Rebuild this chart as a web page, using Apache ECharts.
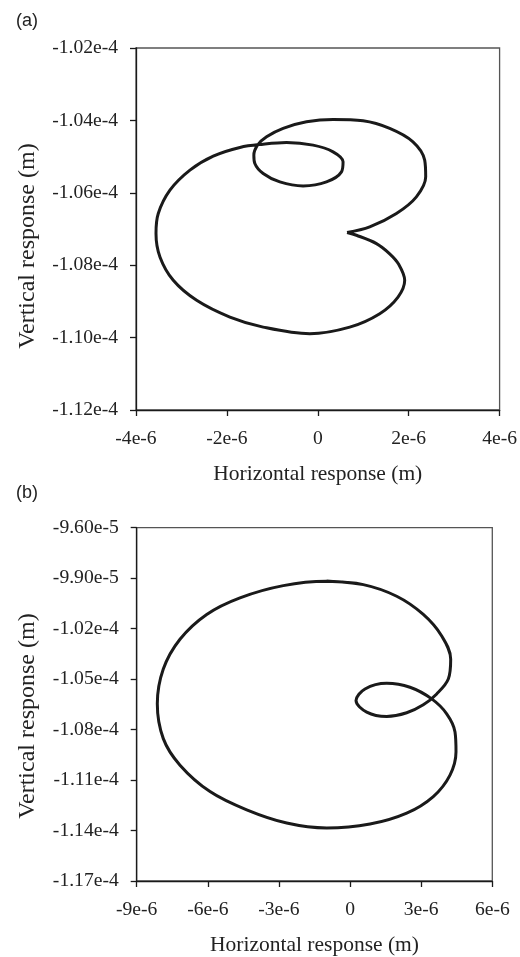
<!DOCTYPE html>
<html>
<head>
<meta charset="utf-8">
<script src="https://cdn.jsdelivr.net/npm/echarts@6/dist/echarts.min.js"></script>
<style>
  html, body { margin: 0; padding: 0; background: #fff; }
  #chart { width: 520px; height: 957px; }
</style>
</head>
<body>
<div id="chart"></div>
<script>
// Panel (a): orbit of the response point (horizontal, vertical), metres
const orbitAX = [
  0.644e-6, 1.143e-6, 1.730e-6, 2.169e-6, 2.374e-6, 2.352e-6, 2.094e-6, 1.582e-6, 0.996e-6, 0.336e-6,
  -0.248e-6, -0.763e-6, -1.127e-6, -1.325e-6, -1.407e-6, -1.385e-6, -1.202e-6, -0.835e-6, -0.323e-6, 0.191e-6,
  0.521e-6, 0.556e-6, 0.336e-6, -0.103e-6, -0.688e-6, -1.202e-6, -1.714e-6, -2.301e-6, -2.813e-6, -3.253e-6,
  -3.510e-6, -3.560e-6, -3.473e-6, -3.180e-6, -2.666e-6, -1.934e-6, -1.202e-6, -0.176e-6, 0.703e-6, 1.363e-6,
  1.765e-6, 1.912e-6, 1.780e-6, 1.582e-6, 1.290e-6, 0.851e-6, 0.644e-6
];
const orbitAY = [
  -107.098e-6, -106.943e-6, -106.573e-6, -106.113e-6, -105.560e-6, -105.098e-6, -104.592e-6, -104.221e-6, -104.011e-6, -103.972e-6,
  -104.039e-6, -104.221e-6, -104.454e-6, -104.683e-6, -104.960e-6, -105.190e-6, -105.466e-6, -105.699e-6, -105.809e-6, -105.699e-6,
  -105.422e-6, -105.145e-6, -104.869e-6, -104.683e-6, -104.609e-6, -104.656e-6, -104.747e-6, -104.988e-6, -105.375e-6, -105.928e-6,
  -106.573e-6, -107.126e-6, -107.773e-6, -108.418e-6, -108.971e-6, -109.433e-6, -109.710e-6, -109.892e-6, -109.710e-6, -109.339e-6,
  -108.880e-6, -108.418e-6, -107.975e-6, -107.685e-6, -107.403e-6, -107.173e-6, -107.098e-6
];

// Panel (b)
const orbitBX = [
  -0.985e-6, 0.558e-6, 1.967e-6, 3.089e-6, 3.866e-6, 4.245e-6, 4.144e-6, 3.655e-6, 3.089e-6, 2.389e-6,
  1.546e-6, 0.702e-6, 0.251e-6, 0.630e-6, 1.546e-6, 2.528e-6, 3.444e-6, 4.076e-6, 4.427e-6, 4.469e-6,
  4.216e-6, 3.511e-6, 2.389e-6, 0.841e-6, -0.985e-6, -2.673e-6, -4.360e-6, -5.908e-6, -7.174e-6, -7.878e-6,
  -8.131e-6, -7.878e-6, -7.174e-6, -6.047e-6, -4.643e-6, -2.816e-6, -0.985e-6, 0.558e-6
];
const orbitBY = [
  -99.189e-6, -99.384e-6, -100.075e-6, -101.156e-6, -102.437e-6, -103.813e-6, -104.994e-6, -105.880e-6, -106.530e-6, -107.002e-6,
  -107.220e-6, -106.961e-6, -106.276e-6, -105.585e-6, -105.248e-6, -105.484e-6, -106.175e-6, -107.061e-6, -108.142e-6, -109.323e-6,
  -110.705e-6, -111.980e-6, -112.967e-6, -113.616e-6, -113.852e-6, -113.557e-6, -112.772e-6, -111.685e-6, -110.114e-6, -108.537e-6,
  -106.470e-6, -104.404e-6, -102.632e-6, -101.156e-6, -100.169e-6, -99.443e-6, -99.189e-6, -99.384e-6
];

// Tick labels
const aXTicks = ['-4e-6', '-2e-6', '0', '2e-6', '4e-6'];
const aYTicks = ['-1.12e-4', '-1.10e-4', '-1.08e-4', '-1.06e-4', '-1.04e-4', '-1.02e-4'];
const bXTicks = ['-9e-6', '-6e-6', '-3e-6', '0', '3e-6', '6e-6'];
const bYTicks = ['-1.17e-4', '-1.14e-4', '-1.11e-4', '-1.08e-4', '-1.05e-4', '-1.02e-4', '-9.90e-5', '-9.60e-5'];

const panelLabels = ['(a)', '(b)'];
const xTitle = 'Horizontal response (m)';
const yTitle = 'Vertical response (m)';

const SERIF = '"Liberation Serif", "Times New Roman", serif';
const SANS = '"Liberation Sans", Arial, sans-serif';
const INK = '#1a1a1a';

function zip(xs, ys) { return xs.map((x, i) => [x, ys[i]]); }

function xAxisOf(gridIndex, min, max, interval, labels) {
  return {
    type: 'value', gridIndex, min, max, interval,
    name: xTitle, nameLocation: 'middle', nameGap: 53,
    nameTextStyle: { fontFamily: SERIF, fontSize: 21.5, color: '#222' },
    axisLine: { show: true, onZero: false, lineStyle: { color: INK, width: 1.3 } },
    axisTick: { show: true, inside: false, length: 6, lineStyle: { color: INK, width: 1.3 } },
    axisLabel: { margin: 19, fontFamily: SERIF, fontSize: 19.6, color: '#222',
      formatter: (v, i) => labels[i] },
    splitLine: { show: false }
  };
}
function yAxisOf(gridIndex, min, max, interval, labels) {
  return {
    type: 'value', gridIndex, min, max, interval,
    name: '',
    axisLine: { show: true, onZero: false, lineStyle: { color: INK, width: 1.3 } },
    axisTick: { show: true, inside: false, length: 6, lineStyle: { color: INK, width: 1.3 } },
    axisLabel: { margin: 18, fontFamily: SERIF, fontSize: 19.6, color: '#222',
      formatter: (v, i) => labels[i] },
    splitLine: { show: false }
  };
}
function orbit(idx, data) {
  return {
    type: 'line', xAxisIndex: idx, yAxisIndex: idx, data,
    showSymbol: false, smooth: 0.35, animation: false,
    lineStyle: { color: INK, width: 3 }
  };
}
// rotated title for a vertical axis, centred at (cx, cy)
function yTitleText(cx, cy) {
  return {
    type: 'text', x: cx, y: cy, rotation: Math.PI / 2,
    style: { text: yTitle, font: '24px ' + SERIF, fill: '#222', align: 'center', verticalAlign: 'middle' }
  };
}

const chart = echarts.init(document.getElementById('chart'), null, { renderer: 'canvas' });
chart.setOption({
  backgroundColor: '#fff',
  animation: false,
  title: [
    { text: panelLabels[0], left: 11, top: 7,
      textStyle: { fontFamily: SANS, fontSize: 18, fontWeight: 'normal', color: '#222' } },
    { text: panelLabels[1], left: 11, top: 479,
      textStyle: { fontFamily: SANS, fontSize: 18, fontWeight: 'normal', color: '#222' } }
  ],
  graphic: [yTitleText(28, 246), yTitleText(28, 716)],
  grid: [
    { left: 136, top: 48, width: 364, height: 362, show: true, borderColor: '#555', borderWidth: 1.3 },
    { left: 136.7, top: 527.7, width: 355.6, height: 355.6, show: true, borderColor: '#555', borderWidth: 1.3 }
  ],
  xAxis: [
    xAxisOf(0, -4e-6, 4e-6, 2e-6, aXTicks),
    xAxisOf(1, -9e-6, 6e-6, 3e-6, bXTicks)
  ],
  yAxis: [
    yAxisOf(0, -1.12e-4, -1.02e-4, 2e-6, aYTicks),
    yAxisOf(1, -1.17e-4, -9.6e-5, 3e-6, bYTicks)
  ],
  series: [
    orbit(0, zip(orbitAX, orbitAY)),
    orbit(1, zip(orbitBX, orbitBY))
  ]
});
</script>
</body>
</html>
